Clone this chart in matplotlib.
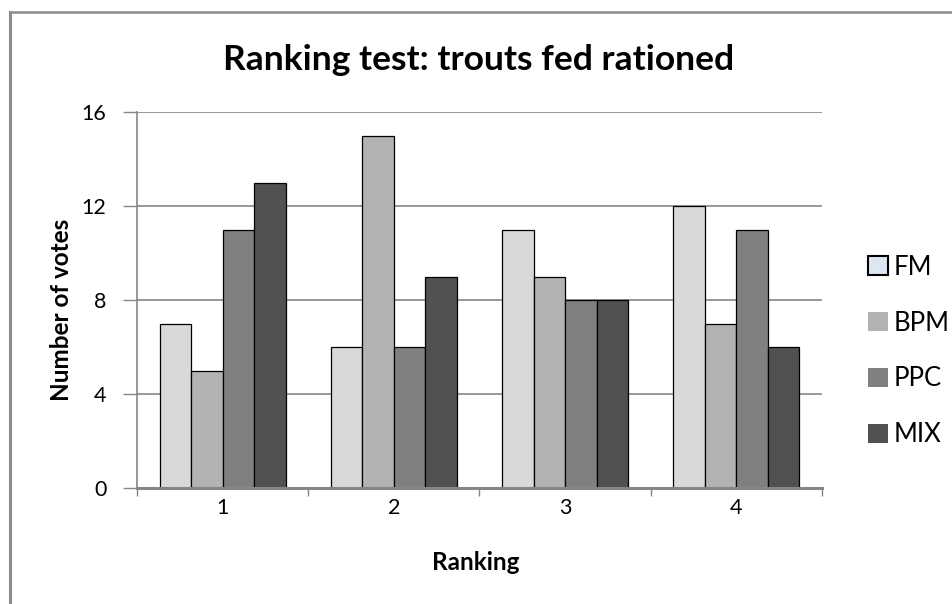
import matplotlib
matplotlib.use("Agg")
import matplotlib.pyplot as plt
import numpy as np
from matplotlib.lines import Line2D
from matplotlib.patches import Patch

categories = ["1", "2", "3", "4"]
series_names = ["FM", "BPM", "PPC", "MIX"]
fm = [7, 6, 11, 12]
bpm = [5, 15, 9, 7]
ppc = [11, 6, 8, 11]
mix = [13, 9, 8, 6]
y_ticks = [0, 4, 8, 12, 16]

colors = ["#d9d9d9", "#b3b3b3", "#808080", "#515151"]
legend_colors = ["#dde7f3", "#b3b3b3", "#808080", "#515151"]
grid_color = "#868686"

plt.rcParams["font.family"] = ["Lato", "DejaVu Sans"]

W, H = 953, 604
fig = plt.figure(figsize=(W / 100, H / 100), dpi=100)
ax = fig.add_axes([137 / W, 1 - 488 / H, (822 - 137) / W, (488 - 112) / H])

x = np.arange(len(categories))
bar_w = 0.184
values = [fm, bpm, ppc, mix]
for i, (vals, col) in enumerate(zip(values, colors)):
    offset = (i - 1.5) * bar_w
    ax.bar(x + offset, vals, width=bar_w, color=col, edgecolor="black",
           linewidth=0.9, zorder=3)

ax.set_xlim(-0.5, 3.5)
ax.set_ylim(0, 16)
ax.set_yticks(y_ticks)
ax.set_yticklabels([str(t) for t in y_ticks], fontsize=15.5)
ax.set_xticks(x)
ax.set_xticklabels(categories, fontsize=15.5)
ax.set_xticks(np.arange(-0.5, 4.0, 1.0), minor=True)
ax.tick_params(axis="x", which="major", length=0, pad=7)
ax.tick_params(axis="x", which="minor", length=6, color=grid_color, width=1)
ax.tick_params(axis="y", length=10, color=grid_color, width=1, pad=12)

ax.yaxis.grid(True, color=grid_color, linewidth=1.2, zorder=0)
ax.set_axisbelow(True)
for s in ["top", "right"]:
    ax.spines[s].set_visible(False)
ax.spines["left"].set_color(grid_color)
ax.spines["left"].set_linewidth(1.2)
ax.spines["bottom"].set_color(grid_color)
ax.spines["bottom"].set_linewidth(2.2)
ax.spines["bottom"].set_zorder(4)

# axis titles placed in figure pixels
fig.text(62 / W, 1 - 310 / H, "Number of votes", rotation=90,
         ha="center", va="center", fontsize=17.5, fontweight="bold")
fig.text(476 / W, 1 - 562 / H, "Ranking",
         ha="center", va="center", fontsize=17.5, fontweight="bold")

fig.text(479 / W, 1 - 60 / H, "Ranking test: trouts fed rationed",
         ha="center", va="center", fontsize=25.5, fontweight="bold")

handles = [Patch(facecolor=c, edgecolor="black" if i == 0 else "none",
                 linewidth=1.5) for i, c in enumerate(legend_colors)]
fig.legend(handles, series_names, loc="center left",
           bbox_to_anchor=(858 / W, 1 - 351 / H), frameon=False,
           fontsize=18.5, handlelength=0.75, handleheight=0.75,
           handletextpad=0.25, labelspacing=1.2, borderaxespad=0)

# outer chart frame (left and top edges)
fig.add_artist(Line2D([10 / W, 10 / W], [0, 1 - 12 / H],
                      transform=fig.transFigure, color="#8c8c8c", linewidth=2.2))
fig.add_artist(Line2D([10 / W, 1], [1 - 12 / H, 1 - 12 / H],
                      transform=fig.transFigure, color="#8c8c8c", linewidth=1.8))

fig.savefig("out.png", dpi=100)
